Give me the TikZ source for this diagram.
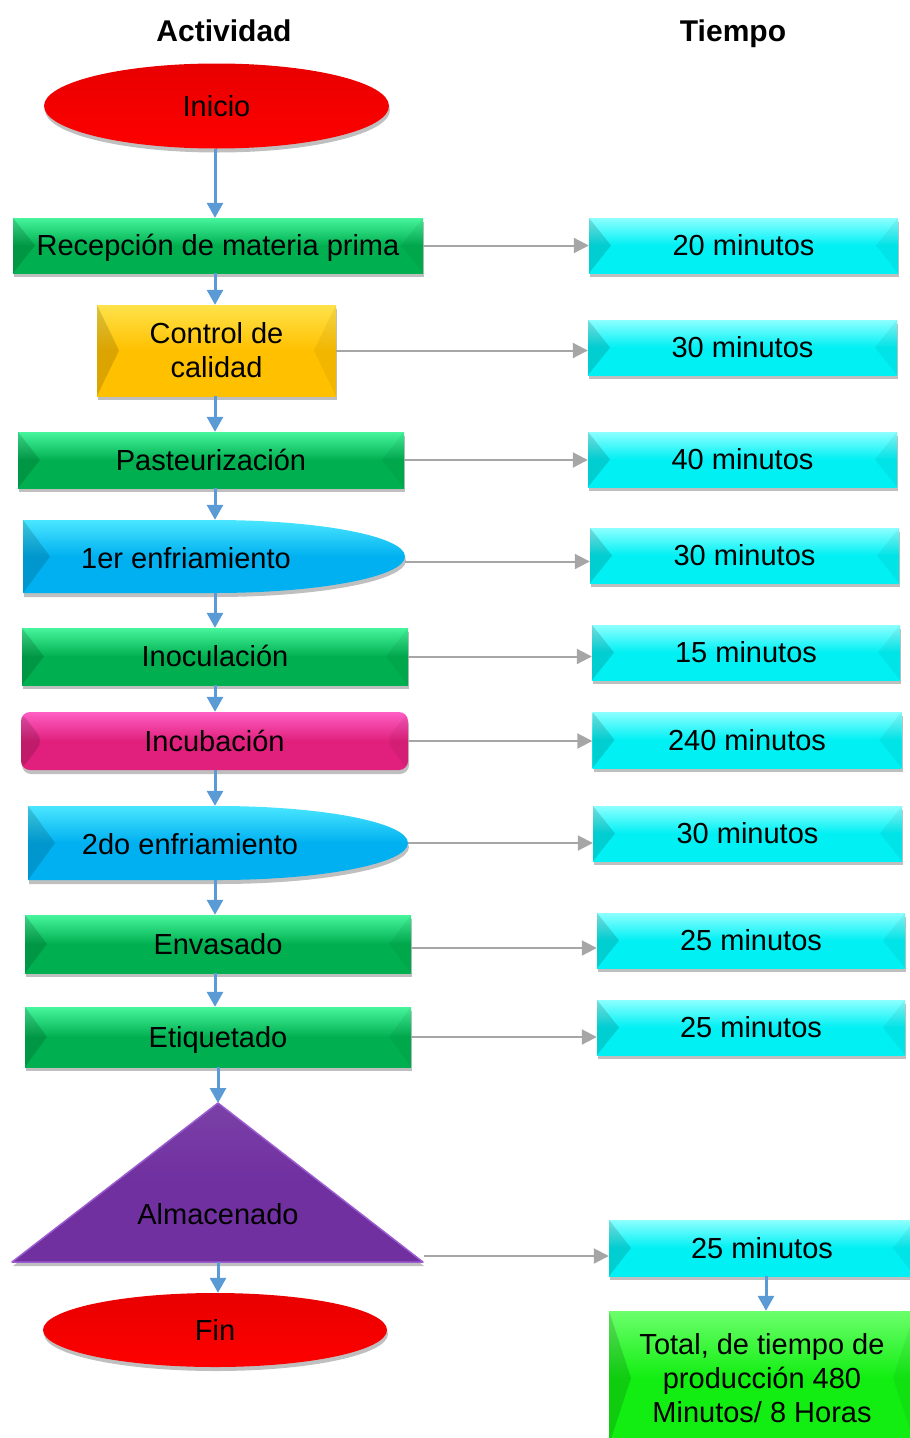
\documentclass[tikz,border=0pt]{standalone}
\usepackage{fontspec}
\setmainfont{Liberation Sans}
\usetikzlibrary{shapes.geometric,arrows.meta,shadows,calc}

\definecolor{grnL}{HTML}{46F59C}
\definecolor{grnB}{HTML}{00B050}
\definecolor{cyaL}{HTML}{8CFFFF}
\definecolor{cyaB}{HTML}{00F0F4}
\definecolor{golL}{HTML}{FFE24A}
\definecolor{golB}{HTML}{FFC000}
\definecolor{magL}{HTML}{FF5EC4}
\definecolor{magB}{HTML}{E0207C}
\definecolor{bluL}{HTML}{4AE6FF}
\definecolor{bluB}{HTML}{00B0F0}
\definecolor{purB}{HTML}{7030A0}
\definecolor{purE}{HTML}{9C5CD2}
\definecolor{limL}{HTML}{6CFF6C}
\definecolor{limB}{HTML}{12EE12}
\definecolor{redT}{HTML}{E80000}
\definecolor{redB}{HTML}{FF0000}
\definecolor{flowblue}{HTML}{5B9BD5}
\definecolor{flowgray}{HTML}{A6A6A6}

\newcommand\flowfont{\fontsize{29}{34}\selectfont}

\tikzset{
  shade/.style={drop shadow={shadow xshift=1pt, shadow yshift=-4pt, opacity=.25, fill=black}},
  box/.style={rectangle, inner sep=0pt, font=\flowfont, align=center, shade},
  oneline/.style={text height=20pt, text depth=0pt},
  bevel/.style n args={3}{box, top color=#1, bottom color=#2, middle color=#2,
    path picture={
      \fill[#3, opacity=.14] (path picture bounding box.north west)
        -- ($(path picture bounding box.west)+(22,0)$)
        -- (path picture bounding box.south west) -- cycle;
      \fill[#3, opacity=.05] (path picture bounding box.north east)
        -- ($(path picture bounding box.east)+(-22,0)$)
        -- (path picture bounding box.south east) -- cycle;
    }},
  greenbox/.style={bevel={grnL}{grnB}{black}, oneline},
  timebox/.style={bevel={cyaL}{cyaB}{black}, oneline,
    minimum width=309, minimum height=55},
  oval/.style={ellipse, inner sep=0pt, font=\flowfont, shade,
    top color=redT, middle color=redB, bottom color=redB},
  down/.style={draw=flowblue, line width=3pt, -{Triangle[width=16pt,length=15pt]}},
  side/.style={draw=flowgray, line width=2pt, -{Triangle[width=15pt,length=15pt]}},
  head/.style={font=\fontsize{30}{34}\selectfont\bfseries, anchor=base}
}

\begin{document}
\begin{tikzpicture}[x=1pt,y=-1pt]
\useasboundingbox (0,0) rectangle (910,1438);
\clip (0,0) rectangle (910,1438);

% column headings
\node[head] (hact) at (224,41) {Actividad};
\node[head] (htie) at (733,41) {Tiempo};

% axis of the main flow
\coordinate (axis) at (215,0);

% main column
\node[oval, minimum width=345, minimum height=85] (ini) at (216.5,106) {Inicio};
\node[greenbox, minimum width=410, minimum height=55] (rec) at (218,245.5) {Recepción de materia prima};
\node[bevel={golL}{golB}{black}, minimum width=239, minimum height=91] (ctl) at (216.5,350.5) {Control de\\calidad};
\node[greenbox, minimum width=386, minimum height=56] (pas) at (211,460) {Pasteurización};

% first cooling: flat left end, half-ellipse right end
\path[shade, top color=bluL, bottom color=bluB, middle color=bluB]
  (23,520) -- (214,520)
  .. controls (319.5,520) and (405,536.3) .. (405,556.5)
  .. controls (405,576.7) and (319.5,593) .. (214,593)
  -- (23,593) -- cycle;
\fill[black, opacity=.14] (23,520) -- (50,556.5) -- (23,593) -- cycle;
\node[inner sep=0pt, minimum width=382, minimum height=73] (enf1) at (214,556.5) {};
\node[font=\flowfont, oneline] (enf1t) at (186,558) {1er enfriamiento};

\node[greenbox, minimum width=386, minimum height=57] (ino) at (215,656.5) {Inoculación};
\node[bevel={magL}{magB}{black}, oneline, rounded corners=9pt, minimum width=387, minimum height=58] (inc) at (214.5,741) {Incubación};

% second cooling
\path[shade, top color=bluL, bottom color=bluB, middle color=bluB]
  (28,806) -- (218,806)
  .. controls (322.9,806) and (408,822.6) .. (408,843)
  .. controls (408,863.4) and (322.9,880) .. (218,880)
  -- (28,880) -- cycle;
\fill[black, opacity=.14] (28,806) -- (55,843) -- (28,880) -- cycle;
\node[inner sep=0pt, minimum width=380, minimum height=74] (enf2) at (218,843) {};
\node[font=\flowfont, oneline] (enf2t) at (190,844) {2do enfriamiento};

\node[greenbox, minimum width=386, minimum height=58] (env) at (218,944) {Envasado};
\node[greenbox, minimum width=386, minimum height=60] (eti) at (218,1037) {Etiquetado};

% storage triangle
\path[shade, top color=purB!92!white, bottom color=purB, middle color=purB, draw=purE, line width=1.5pt, line join=round]
  (218,1103) -- (423,1262) -- (12,1262) -- cycle;
\coordinate (almtop) at (218,1103);
\coordinate (almbot) at (218,1262);
\coordinate (almE) at (424,1256);
\node[font=\flowfont, oneline] (alm) at (218,1214) {Almacenado};

\node[oval, minimum width=344, minimum height=74] (fin) at (215,1330) {Fin};

% time column
\node[timebox] (t1) at (743.5,245.5) {20 minutos};
\node[timebox] (t2) at (742.5,347.5) {30 minutos};
\node[timebox] (t3) at (742.5,459.5) {40 minutos};
\node[timebox] (t4) at (744.5,555.5) {30 minutos};
\node[timebox, minimum width=308] (t5) at (746,652.5) {15 minutos};
\node[timebox, minimum height=56] (t6) at (747,740) {240 minutos};
\node[timebox] (t7) at (747.5,833.5) {30 minutos};
\node[timebox, minimum width=308] (t8) at (751,940.5) {25 minutos};
\node[timebox, minimum width=308] (t9) at (751,1027.5) {25 minutos};
\node[timebox, minimum width=306, minimum height=56] (t10) at (762,1248) {25 minutos};
\node[bevel={limL}{limB}{black}, minimum width=306, minimum height=134] (tot) at (762,1378)
  {Total, de tiempo de\\producción 480\\Minutos/ 8 Horas};

% flow arrows
\draw[down] (ini.south -| axis) -- (rec.north -| axis);
\draw[down] (rec.south -| axis) -- (ctl.north -| axis);
\draw[down] (ctl.south -| axis) -- (pas.north -| axis);
\draw[down] (pas.south -| axis) -- (enf1.north -| axis);
\draw[down] (enf1.south -| axis) -- (ino.north -| axis);
\draw[down] (ino.south -| axis) -- (inc.north -| axis);
\draw[down] (inc.south -| axis) -- (enf2.north -| axis);
\draw[down] (enf2.south -| axis) -- (env.north -| axis);
\draw[down] (env.south -| axis) -- (eti.north -| axis);
\draw[down] (eti.south -| almtop) -- (almtop);
\draw[down] (almbot) -- (almbot |- fin.north);
\draw[down] (t10.south -| tot.north) ++(4,0) coordinate (tsplit) -- (tsplit |- tot.north);

% time links
\draw[side] (rec.east) -- (rec.east -| t1.west);
\draw[side] (ctl.east) -- (ctl.east -| t2.west);
\draw[side] (pas.east) -- (pas.east -| t3.west);
\draw[side] (enf1.east) ++(0,5) coordinate (e1) -- (e1 -| t4.west);
\draw[side] (ino.east) -- (ino.east -| t5.west);
\draw[side] (inc.east) -- (inc.east -| t6.west);
\draw[side] (enf2.east) -- (enf2.east -| t7.west);
\draw[side] (env.east) ++(0,4) coordinate (e2) -- (e2 -| t8.west);
\draw[side] (eti.east) -- (eti.east -| t9.west);
\draw[side] (almE) -- (almE -| t10.west);
\end{tikzpicture}
\end{document}
